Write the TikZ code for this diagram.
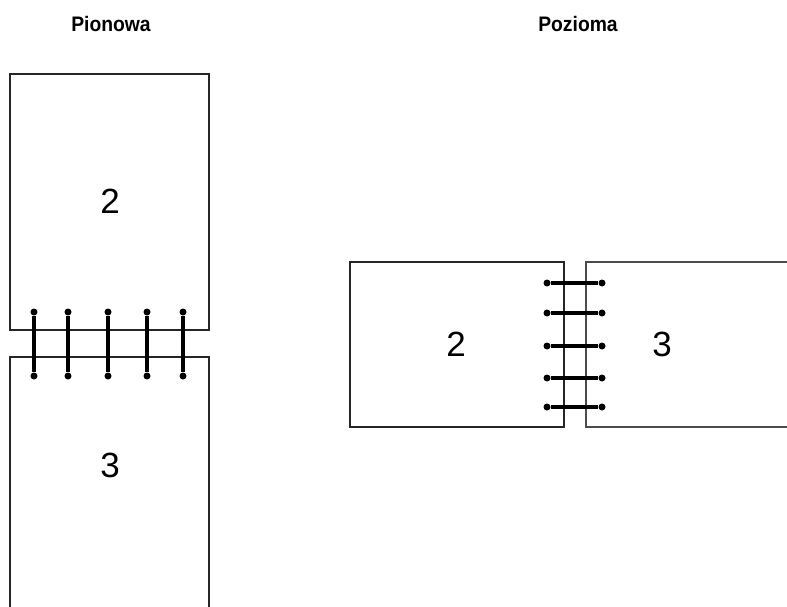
\documentclass[tikz,border=0pt]{standalone}
\usepackage{fontspec}
\setmainfont{Liberation Sans}
\begin{document}
\begin{tikzpicture}[x=1pt,y=-1pt,
  page/.style={draw=black!85,line width=1.8pt},
  hole/.style={circle,fill=black,inner sep=0pt,minimum size=7pt},
  ring/.style={draw=black,line width=3.2pt},
  title/.style={font=\bfseries\fontsize{21}{24}\selectfont},
  num/.style={font=\fontsize{35}{40}\selectfont}]
\useasboundingbox (0,0) rectangle (787,607);
% titles
\node[title] (tP) at (111,24) {\scalebox{0.92}[1]{Pionowa}};
\node[title] (tZ) at (578,24) {\scalebox{0.92}[1]{Pozioma}};
% portrait pages
\draw[page] (10,330) -- (10,74) -- (209,74) -- (209,330) -- cycle;
\draw[page] (10,610) -- (10,357) -- (209,357) -- (209,610);
\node[num] (p2) at (110,201) {2};
\node[num] (p3) at (110,465) {3};
\foreach \x [count=\i] in {34,68,108,147,183}{
  \node[hole] (a\i) at (\x,312) {};
  \node[hole] (b\i) at (\x,376) {};
  \draw[ring] (a\i) -- (b\i);
}
% landscape pages
\draw[page] (564,262) -- (350,262) -- (350,427) -- (564,427) -- cycle;
\draw[page,draw=black!70] (790,262) -- (586,262) -- (586,427) -- (790,427);
\node[num] (l2) at (456,344) {2};
\node[num] (l3) at (662,344) {3};
\foreach \y [count=\i] in {283,313,346,378,407}{
  \node[hole] (c\i) at (547,\y) {};
  \node[hole] (d\i) at (602,\y) {};
  \draw[ring] (c\i) -- (d\i);
}
\end{tikzpicture}
\end{document}
